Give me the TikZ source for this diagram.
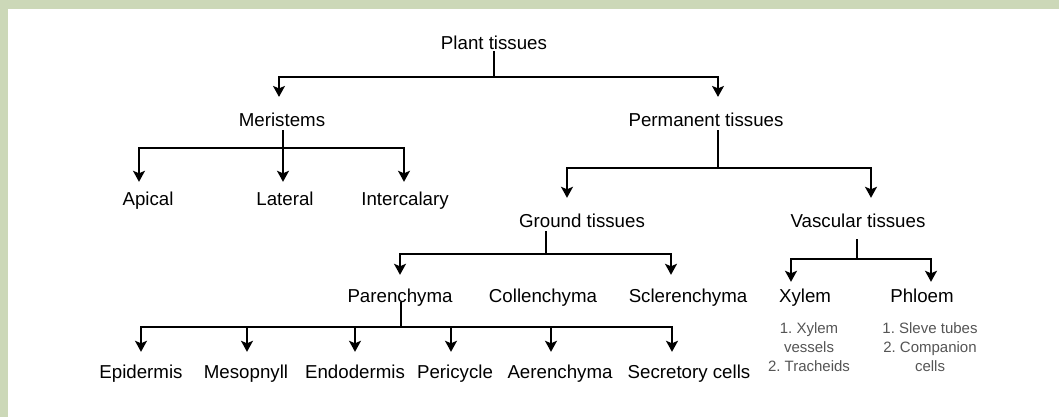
\documentclass[tikz,border=0pt]{standalone}
\usepackage{fontspec}
\setmainfont{Liberation Sans}
\usetikzlibrary{arrows.meta,positioning,calc}
\definecolor{framegreen}{HTML}{CCD8B8}
\definecolor{listgray}{HTML}{555555}
\frenchspacing

\begin{document}
\begin{tikzpicture}[
    x=1pt, y=-1pt,
    tissue/.style={inner sep=0pt, anchor=base, 
        text height=13.4pt, text depth=0pt, 
        font=\fontsize{18.7}{22}\selectfont},
    sublist/.style={inner sep=0pt, align=center, text=listgray, 
        font=\fontsize{15}{19}\selectfont},
    link/.style={line width=1.6pt},
    arr/.style={link, 
        -{Stealth[length=11pt, width=12pt, inset=2.5pt]}},
]

% ── Frame ──
\useasboundingbox (0,0) rectangle (1059,417);
\fill[framegreen] (0,0) rectangle (1059,417);
\fill[white] (8,9) rectangle (1059,417);

% ── Root and first split ──
\node[tissue] (plant) at (494,50) {Plant tissues};
\node[tissue] (mer) at (282,127) {Meristems};
\node[tissue] (perm) at (706,127) {Permanent tissues};

% ── Meristems ──
\node[tissue] (apical) at (148,205) {Apical};
\node[tissue] (lateral) at (285,205) {Lateral};
\node[tissue] (inter) at (405,205) {Intercalary};

% ── Permanent tissues ──
\node[tissue] (ground) at (582,227) {Ground tissues};
\node[tissue] (vasc) at (858,227) {Vascular tissues};

\node[tissue] (paren) at (400,302) {Parenchyma};
\node[tissue] (collen) at (543,302) {Collenchyma};
\node[tissue] (scler) at (688,302) {Sclerenchyma};

\node[tissue] (xylem) at (805,302) {Xylem};
\node[tissue] (phloem) at (922,302) {Phloem};
\node[sublist] (xylist) at (809,347) 
    {1. Xylem\\vessels\\2. Tracheids};
\node[sublist] (phlist) at (930,347) 
    {1. Sleve tubes\\2. Companion\\cells};

% ── Parenchyma types ──
\node[tissue] (epi) at (141,378) {Epidermis};
\node[tissue] (meso) at (246,378) {Mesopnyll};
\node[tissue] (endo) at (355,378) {Endodermis};
\node[tissue] (peri) at (455,378) {Pericycle};
\node[tissue] (aer) at (560,378) {Aerenchyma};
\node[tissue] (secr) at (689,378) {Secretory cells};

% ── Arrows ──
\draw[arr, shorten >=16.5pt] ([yshift=-1pt]plant.south) 
    -- ++(0,26) -| ([xshift=-3pt]mer.north);
\draw[arr, shorten >=16.5pt] ([yshift=-1pt]plant.south) 
    -- ++(0,26) -| ([xshift=12pt]perm.north);

\draw[arr, shorten >=9.6pt] ([xshift=1pt,yshift=-3pt]mer.south) 
    -- ++(0,18) -| ([xshift=-9pt]apical.north);
\draw[arr, shorten >=9.6pt] ([xshift=1pt,yshift=-3pt]mer.south) 
    -- ++(0,18) -| ([xshift=-2pt]lateral.north);
\draw[arr, shorten >=9.6pt] ([xshift=1pt,yshift=-3pt]mer.south) 
    -- ++(0,18) -| ([xshift=-1pt]inter.north);

\draw[arr, shorten >=15.6pt] ([xshift=12pt,yshift=-3pt]perm.south) 
    -- ++(0,38) -| ([xshift=-15pt]ground.north);
\draw[arr, shorten >=15.6pt] ([xshift=12pt,yshift=-3pt]perm.south) 
    -- ++(0,38) -| ([xshift=13pt]vasc.north);

\draw[arr, shorten >=13.6pt] ([xshift=-36pt,yshift=-4pt]ground.south) 
    -- ++(0,23) -| (paren.north);
\draw[arr, shorten >=13.6pt] ([xshift=-36pt,yshift=-4pt]ground.south) 
    -- ++(0,23) -| ([xshift=-17pt]scler.north);

\draw[arr, shorten >=6.6pt] ([xshift=-1pt,yshift=-12pt]vasc.south) 
    -- ++(0,20) -| ([xshift=-14pt]xylem.north);
\draw[arr, shorten >=6.6pt] ([xshift=-1pt,yshift=-12pt]vasc.south) 
    -- ++(0,20) -| ([xshift=9pt]phloem.north);

\draw[arr, shorten >=12.6pt] ([xshift=1pt]paren.south) 
    -- ++(0,25) -| (epi.north);
\draw[arr, shorten >=12.6pt] ([xshift=1pt]paren.south) 
    -- ++(0,25) -| ([xshift=1pt]meso.north);
\draw[arr, shorten >=12.6pt] ([xshift=1pt]paren.south) 
    -- ++(0,25) -| (endo.north);
\draw[arr, shorten >=12.6pt] ([xshift=1pt]paren.south) 
    -- ++(0,25) -| ([xshift=-4pt]peri.north);
\draw[arr, shorten >=12.6pt] ([xshift=1pt]paren.south) 
    -- ++(0,25) -| ([xshift=-9pt]aer.north);
\draw[arr, shorten >=12.6pt] ([xshift=1pt]paren.south) 
    -- ++(0,25) -| ([xshift=-17pt]secr.north);

\end{tikzpicture}
\end{document}
